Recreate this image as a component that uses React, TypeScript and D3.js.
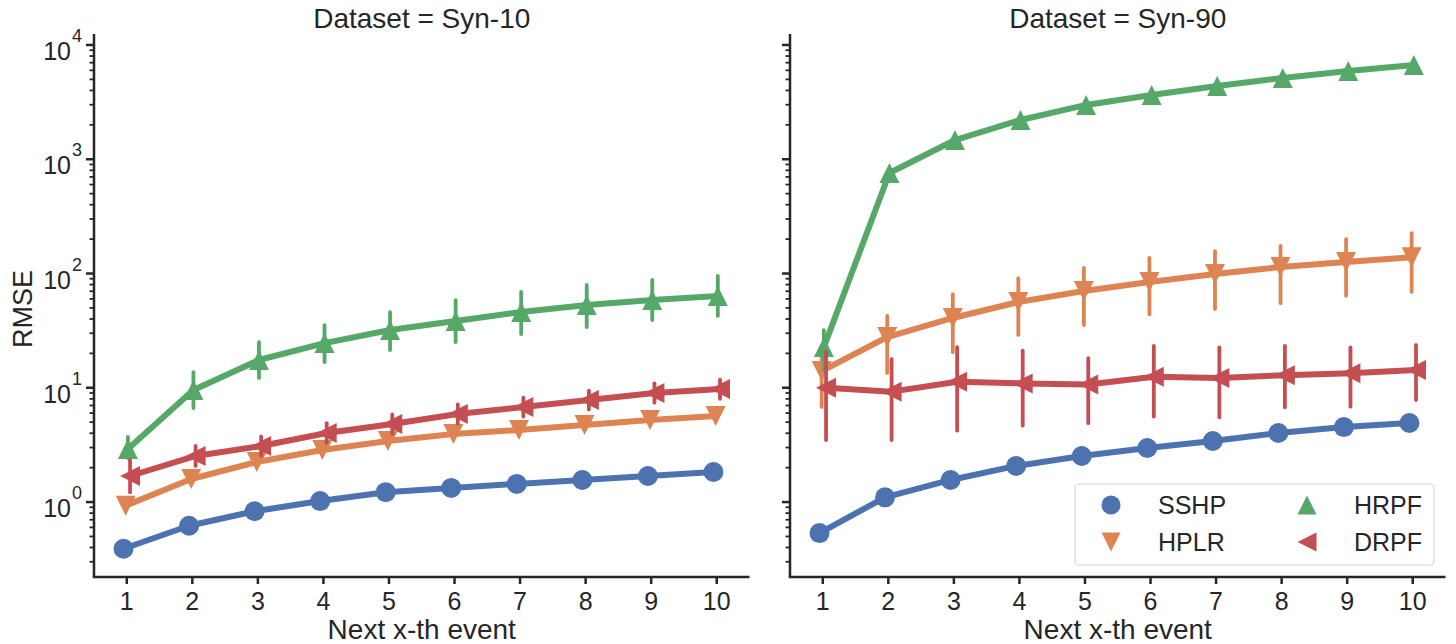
import React from "react";
import * as d3 from "d3";

const categories = ["1", "2", "3", "4", "5", "6", "7", "8", "9", "10"];
const seriesNames = ["SSHP", "HPLR", "HRPF", "DRPF"];
const seriesColors = ["#4c72b0", "#dd8452", "#55a868", "#c44e52"];
const seriesMarkers = ["circle", "down", "up", "left"];
const panelTitles = ["Dataset = Syn-10", "Dataset = Syn-90"];
const yMajorTicks = [1, 10, 100, 1000, 10000];
const yMajorExp = ["0", "1", "2", "3", "4"];

// Syn-10
const syn10SSHP = [0.39, 0.62, 0.83, 1.02, 1.22, 1.33, 1.44, 1.56, 1.69, 1.83];
const syn10SSHPLo = [0.37, 0.6, 0.8, 0.99, 1.18, 1.29, 1.4, 1.52, 1.64, 1.78];
const syn10SSHPHi = [0.41, 0.64, 0.86, 1.05, 1.26, 1.37, 1.48, 1.6, 1.74, 1.88];
const syn10HPLR = [0.93, 1.59, 2.24, 2.85, 3.42, 3.94, 4.27, 4.72, 5.22, 5.66];
const syn10HPLRLo = [0.86, 1.5, 2.12, 2.72, 3.27, 3.78, 4.1, 4.55, 5.03, 5.45];
const syn10HPLRHi = [1.01, 1.68, 2.36, 2.98, 3.57, 4.1, 4.44, 4.9, 5.42, 5.88];
const syn10HRPF = [2.91, 9.56, 17.5, 24.6, 32, 38.4, 46, 53, 58.6, 63.5];
const syn10HRPFLo = [2.43, 6.65, 12.2, 16.8, 21.4, 25.1, 29.5, 34.0, 39.2, 42.5];
const syn10HRPFHi = [3.71, 13.7, 25.1, 35.4, 46, 58.6, 68.9, 79.3, 87.7, 95.1];
const syn10DRPF = [1.69, 2.53, 3.09, 4.02, 4.82, 5.89, 6.78, 7.81, 9.0, 9.75];
const syn10DRPFLo = [1.22, 2.07, 2.55, 3.3, 3.95, 4.85, 5.6, 6.45, 7.4, 8.0];
const syn10DRPFHi = [2.33, 3.1, 3.75, 4.9, 5.85, 7.15, 8.2, 9.45, 10.9, 11.8];

// Syn-90
const syn90SSHP = [0.535, 1.1, 1.56, 2.07, 2.53, 2.97, 3.42, 4.02, 4.53, 4.92];
const syn90SSHPLo = [0.51, 1.05, 1.5, 2.0, 2.45, 2.88, 3.32, 3.9, 4.4, 4.78];
const syn90SSHPHi = [0.56, 1.15, 1.62, 2.14, 2.61, 3.06, 3.52, 4.14, 4.66, 5.06];
const syn90HPLR = [14.0, 27.8, 40.8, 56.3, 70.3, 84.3, 99, 114, 126, 139];
const syn90HPLRLo = [6.8, 13.5, 20.5, 29, 35.4, 44, 49, 55, 64, 69];
const syn90HPLRHi = [22, 42.5, 66, 91, 112, 137, 157, 174, 200, 226];
const syn90HRPF = [22.7, 758, 1473, 2207, 2987, 3650, 4375, 5140, 5925, 6680];
const syn90HRPFLo = [14.3, 700, 1400, 2120, 2880, 3530, 4240, 4990, 5760, 6500];
const syn90HRPFHi = [32, 820, 1550, 2300, 3100, 3780, 4520, 5300, 6100, 6870];
const syn90DRPF = [10.0, 9.25, 11.3, 10.9, 10.7, 12.5, 12.2, 12.9, 13.4, 14.3];
const syn90DRPFLo = [3.49, 3.49, 4.21, 4.66, 4.9, 5.58, 5.51, 6.74, 6.83, 7.81];
const syn90DRPFHi = [20.7, 17.8, 22.7, 21.1, 18.2, 23.2, 22.6, 23.2, 22.6, 23.7];

const panels = [
  {
    values: [syn10SSHP, syn10HPLR, syn10HRPF, syn10DRPF],
    lo: [syn10SSHPLo, syn10HPLRLo, syn10HRPFLo, syn10DRPFLo],
    hi: [syn10SSHPHi, syn10HPLRHi, syn10HRPFHi, syn10DRPFHi],
  },
  {
    values: [syn90SSHP, syn90HPLR, syn90HRPF, syn90DRPF],
    lo: [syn90SSHPLo, syn90HPLRLo, syn90HRPFLo, syn90DRPFLo],
    hi: [syn90SSHPHi, syn90HPLRHi, syn90HRPFHi, syn90DRPFHi],
  },
];

const W = 1456;
const H = 644;
const TOP = 34;
const BOTTOM = 577;
const panelX = [
  [94, 749.5],
  [790, 1445.5],
];
const FONT = "'Liberation Sans', Arial, sans-serif";
const TXT = "#262626";
const dodge = [-0.05, -0.0167, 0.0167, 0.05];
const S = 10;

function markerPath(kind: string, s: number) {
  if (kind === "up") return `M0,${-s}L${s},${s}L${-s},${s}Z`;
  if (kind === "down") return `M0,${s}L${s},${-s}L${-s},${-s}Z`;
  if (kind === "left") return `M${-s},0L${s},${-s}L${s},${s}Z`;
  return null;
}

function Marker({ kind, x, y, color, s = S }: { kind: string; x: number; y: number; color: string; s?: number }) {
  if (kind === "circle") return <circle cx={x} cy={y} r={s} fill={color} />;
  return <path d={markerPath(kind, s)!} transform={`translate(${x},${y})`} fill={color} />;
}

export default function App() {
  const y = d3.scaleLog().domain([Math.pow(10, -0.656), Math.pow(10, 4.096)]).range([BOTTOM, TOP]);
  const minorTicks: number[] = [];
  for (let k = -1; k <= 3; k++) {
    for (let m = 2; m <= 9; m++) {
      const v = m * Math.pow(10, k);
      if (v > y.domain()[0] && v < y.domain()[1]) minorTicks.push(v);
    }
  }

  return (
    <svg width={W} height={H} style={{ position: "absolute", left: 0, top: 0, background: "#fff" }} fontFamily={FONT}>
      <rect width={W} height={H} fill="#fff" />
      {panels.map((p, pi) => {
        const [x0, x1] = panelX[pi];
        const x = d3.scalePoint<string>().domain(categories).range([x0, x1]).padding(0.5);
        const step = x.step();
        return (
          <g key={pi}>
            <text x={(x0 + x1) / 2} y={28} textAnchor="middle" fontSize={28} fill={TXT}>
              {panelTitles[pi]}
            </text>
            {seriesNames.map((name, si) => {
              const off = dodge[si] * step;
              const vals = p.values[si];
              const lineGen = d3
                .line<number>()
                .x((_, i) => x(categories[i])! + off)
                .y((v) => y(v));
              return (
                <g key={name}>
                  <path d={lineGen(vals)!} fill="none" stroke={seriesColors[si]} strokeWidth={6} strokeLinejoin="round" />
                  {vals.map((v, i) => (
                    <line
                      key={"e" + i}
                      x1={x(categories[i])! + off}
                      x2={x(categories[i])! + off}
                      y1={y(p.lo[si][i])}
                      y2={y(p.hi[si][i])}
                      stroke={seriesColors[si]}
                      strokeWidth={3.8}
                      strokeLinecap="round"
                    />
                  ))}
                  {vals.map((v, i) => (
                    <Marker key={"m" + i} kind={seriesMarkers[si]} x={x(categories[i])! + off} y={y(v)} color={seriesColors[si]} />
                  ))}
                </g>
              );
            })}
            <line x1={x0} x2={x0} y1={TOP} y2={BOTTOM} stroke={TXT} strokeWidth={2.5} />
            <line x1={x0 - 1.25} x2={x1} y1={BOTTOM} y2={BOTTOM} stroke={TXT} strokeWidth={2.5} />
            {categories.map((c) => (
              <g key={c}>
                <line x1={x(c)} x2={x(c)} y1={BOTTOM} y2={BOTTOM + 7} stroke={TXT} strokeWidth={2.5} />
                <text x={x(c)} y={BOTTOM + 33} textAnchor="middle" fontSize={25} fill={TXT}>
                  {c}
                </text>
              </g>
            ))}
            {yMajorTicks.map((t, ti) => (
              <g key={t}>
                <line x1={x0 - 8} x2={x0} y1={y(t)} y2={y(t)} stroke={TXT} strokeWidth={2.5} />
                {pi === 0 && (
                  <text x={x0 - 12} y={y(t) + 15} textAnchor="end" fontSize={25} fill={TXT}>
                    10
                    <tspan dx={1} dy={-18} fontSize={18}>
                      {yMajorExp[ti]}
                    </tspan>
                  </text>
                )}
              </g>
            ))}
            {minorTicks.map((t) => (
              <line key={t} x1={x0 - 4.5} x2={x0} y1={y(t)} y2={y(t)} stroke={TXT} strokeWidth={1.8} />
            ))}
            <text x={(x0 + x1) / 2} y={639} textAnchor="middle" fontSize={28} fill={TXT}>
              Next x-th event
            </text>
          </g>
        );
      })}
      <text transform={`translate(32,309) rotate(-90)`} textAnchor="middle" fontSize={27} fill={TXT}>
        RMSE
      </text>
      <g>
        <rect x={1075} y={484} width={359} height={81} rx={4} fill="#fff" fillOpacity={0.8} stroke="#d6d6d6" strokeWidth={1.2} />
        {seriesNames.map((name, si) => {
          const col = Math.floor(si / 2);
          const row = si % 2;
          const mx = 1111 + col * 196;
          const my = 505 + row * 37;
          return (
            <g key={name}>
              <Marker kind={seriesMarkers[si]} x={mx} y={my} color={seriesColors[si]} s={9.5} />
              <text x={mx + 47} y={my + 9} fontSize={25} fill={TXT}>
                {name}
              </text>
            </g>
          );
        })}
      </g>
    </svg>
  );
}
